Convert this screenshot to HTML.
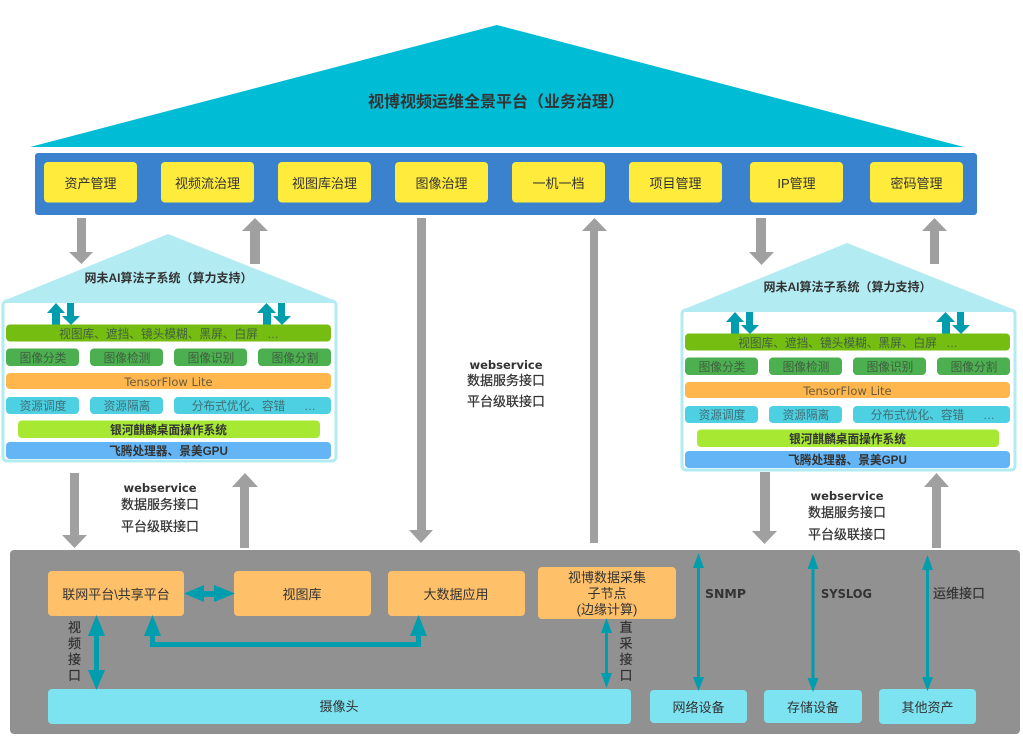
<!DOCTYPE html>
<html lang="zh-CN">
<head>
<meta charset="utf-8">
<style>
html,body{margin:0;padding:0;background:#fff;width:1023px;height:738px;overflow:hidden}
svg{display:block}
text{font-family:"Liberation Sans","Noto Sans CJK SC",sans-serif;font-size:13px;fill:#333;text-anchor:middle}
.d{font-size:11.7px;fill:#3f5f3f}
.c{font-size:11.7px;fill:#3f6f78}
.b{font-weight:bold}
.s{stroke:#333;stroke-width:.25px}
.w{font-family:"DejaVu Sans",sans-serif;font-weight:bold;font-size:11.5px}
.g{fill:#a0a0a0}
.t{fill:#009dae}
</style>
</head>
<body>
<svg width="1023" height="738" viewBox="0 0 1023 738" xmlns="http://www.w3.org/2000/svg">
<defs>
<g id="sub">
  <rect x="3" y="301" width="333" height="160" rx="4" fill="#fff" stroke="#b2ebf2" stroke-width="3"/>
  <polygon points="3,301 168,234 336,301 336,303 3,303" fill="#b2ebf2"/>
  <polygon class="t" points="56,303 65,313 60,313 60,325 52,325 52,313 47,313"/>
  <polygon class="t" points="67,303 74,303 74,316 80,316 71,325 62,316 67,316"/>
  <polygon class="t" points="266.500,303 276,313 271,313 271,325 263,325 263,313 257,313"/>
  <polygon class="t" points="278,303 285,303 285,316 291,316 282,325 273,316 278,316"/>
  <rect x="6" y="324.500" width="325" height="17" rx="4" fill="#76bd12"/>
  <rect x="6" y="348.500" width="73" height="17.500" rx="4" fill="#4caf50"/>
  <rect x="90" y="348.500" width="73" height="17.500" rx="4" fill="#4caf50"/>
  <rect x="174" y="348.500" width="73" height="17.500" rx="4" fill="#4caf50"/>
  <rect x="258" y="348.500" width="73" height="17.500" rx="4" fill="#4caf50"/>
  <rect x="6" y="373" width="325" height="16" rx="4" fill="#ffb74d"/>
  <rect x="6" y="397" width="73" height="17" rx="4" fill="#4dd0e1"/>
  <rect x="90" y="397" width="73" height="17" rx="4" fill="#4dd0e1"/>
  <rect x="174" y="397" width="157" height="17" rx="4" fill="#4dd0e1"/>
  <rect x="18" y="420.500" width="302" height="17.500" rx="4" fill="#a6e832"/>
  <rect x="6" y="442" width="325" height="17" rx="4" fill="#64b5f6"/>
  <text x="168.500" y="282" class="b" style="font-size:12px">网未AI算法子系统（算力支持）</text>
  <text x="158.500" y="338" class="d">视图库、遮挡、镜头模糊、黑屏、白屏</text>
  <text x="273" y="338" class="d">…</text>
  <text x="43" y="362" class="d">图像分类</text>
  <text x="127" y="362" class="d">图像检测</text>
  <text x="211" y="362" class="d">图像识别</text>
  <text x="295" y="362" class="d">图像分割</text>
  <text x="168.500" y="386" style="font-family:'DejaVu Sans',sans-serif;font-size:11.500px;fill:#6b5a3c">TensorFlow Lite</text>
  <text x="43" y="410" class="c">资源调度</text>
  <text x="127" y="410" class="c">资源隔离</text>
  <text x="238.500" y="410" class="c">分布式优化、容错</text>
  <text x="310" y="410" class="c">…</text>
  <text x="168.500" y="434" class="b" style="font-size:11.700px">银河麒麟桌面操作系统</text>
  <text x="168.500" y="455" class="b" style="font-size:11.700px">飞腾处理器、景美GPU</text>
</g>
</defs>

<polygon points="30,147 497,25 964,147" fill="#00bcd4"/>
<text x="496" y="107" class="b" style="font-size:16px">视博视频运维全景平台（业务治理）</text>

<rect x="35" y="153" width="942" height="62" rx="3" fill="#3b82ce"/>
<g fill="#ffeb3b">
<rect x="44" y="162" width="93" height="40.500" rx="4"/>
<rect x="161" y="162" width="93" height="40.500" rx="4"/>
<rect x="278" y="162" width="93" height="40.500" rx="4"/>
<rect x="395" y="162" width="93" height="40.500" rx="4"/>
<rect x="512" y="162" width="93" height="40.500" rx="4"/>
<rect x="629" y="162" width="93" height="40.500" rx="4"/>
<rect x="750" y="162" width="93" height="40.500" rx="4"/>
<rect x="870" y="162" width="93" height="40.500" rx="4"/>
</g>
<text x="90.500" y="188">资产管理</text>
<text x="207.500" y="188">视频流治理</text>
<text x="324.500" y="188">视图库治理</text>
<text x="441.500" y="188">图像治理</text>
<text x="558.500" y="188">一机一档</text>
<text x="675.500" y="188">项目管理</text>
<text x="796.500" y="188">IP管理</text>
<text x="916.500" y="188">密码管理</text>

<use href="#sub"/>
<use href="#sub" transform="translate(679 9)"/>

<polygon class="g" points="77,218 86,218 86,252 93,252 81.500,264 69,252 77,252"/>
<polygon class="g" points="255,218 268,231 260,231 260,264 250,264 250,231 242,231"/>
<polygon class="g" points="417,218 426,218 426,530 433,530 421,543 409,530 417,530"/>
<polygon class="g" points="594.500,218 607,231 598,231 598,543 590,543 590,231 582,231"/>
<polygon class="g" points="756,218 766,218 766,252 774,252 761.500,265 749,252 756,252"/>
<polygon class="g" points="934.500,218 947,231 939,231 939,264 930,264 930,231 922,231"/>
<polygon class="g" points="70,473 79,473 79,535 87,535 74.500,548 62,535 70,535"/>
<polygon class="g" points="245,473 258,487 249,487 249,548 240,548 240,487 232,487"/>
<polygon class="g" points="760,472 770,472 770,531 777,531 764.500,544 752,531 760,531"/>
<polygon class="g" points="936.500,473 949,487 941,487 941,548 932,548 932,487 924,487"/>

<text x="506" y="369" class="w">webservice</text>
<text x="506" y="385" class="s">数据服务接口</text>
<text x="506" y="406" class="s">平台级联接口</text>
<text x="160" y="492" class="w">webservice</text>
<text x="160" y="509" class="s">数据服务接口</text>
<text x="160" y="531" class="s">平台级联接口</text>
<text x="847" y="500" class="w">webservice</text>
<text x="847" y="517" class="s">数据服务接口</text>
<text x="847" y="539" class="s">平台级联接口</text>

<rect x="10" y="550" width="1010" height="184" rx="4" fill="#919191"/>
<g fill="#ffc06a">
<rect x="48" y="571" width="136" height="45" rx="4"/>
<rect x="234" y="571" width="137" height="45" rx="4"/>
<rect x="388" y="571" width="137" height="45" rx="4"/>
<rect x="538" y="567" width="138" height="52" rx="4"/>
</g>
<g fill="#7de3f1">
<rect x="48" y="689" width="583" height="35" rx="4"/>
<rect x="650" y="690" width="97" height="33" rx="4"/>
<rect x="764" y="690" width="98" height="33" rx="4"/>
<rect x="879" y="689" width="97" height="35" rx="4"/>
</g>
<text x="116" y="599">联网平台\共享平台</text>
<text x="302" y="599">视图库</text>
<text x="456" y="599">大数据应用</text>
<text x="607" y="582">视博数据采集</text>
<text x="607" y="598">子节点</text>
<text x="607" y="614">(边缘计算)</text>
<text x="339" y="711">摄像头</text>
<text x="698.500" y="712">网络设备</text>
<text x="813" y="712">存储设备</text>
<text x="927.500" y="712">其他资产</text>

<polygon class="t" points="184,593.500 204,585 204,591 214,591 214,585 235,593.500 214,602 214,597 204,597 204,602"/>
<polygon class="t" points="96.500,615 105,636 99,636 99,670 105,670 96.500,690 88,670 94,670 94,636 88,636"/>
<polygon class="t" points="152.500,615 161,636 155,636 155,642 416,642 416,636 410,636 418.500,615 427,636 421,636 421,647 150,647 150,636 144,636"/>
<polygon class="t" points="606.500,618 612,633 608,633 608,673 612,673 606.500,688 601,673 605,673 605,633 601,633"/>
<polygon class="t" points="698.500,553 704,568 700,568 700,677 704,677 698.500,691 693,677 697,677 697,568 693,568"/>
<polygon class="t" points="813,554 818.500,569 814.500,569 814.500,678 818.500,678 813,692 807.500,678 811.500,678 811.500,569 807.500,569"/>
<polygon class="t" points="927.500,555 933,570 929,570 929,677 933,677 927.500,691 922,677 926,677 926,570 922,570"/>

<text x="74.500" y="632" class="s">视</text>
<text x="74.500" y="648" class="s">频</text>
<text x="74.500" y="664" class="s">接</text>
<text x="74.500" y="680" class="s">口</text>
<text x="626" y="632" class="s">直</text>
<text x="626" y="648" class="s">采</text>
<text x="626" y="664" class="s">接</text>
<text x="626" y="680" class="s">口</text>
<text x="725.500" y="598" class="w" style="font-size:12px" textLength="41" lengthAdjust="spacingAndGlyphs">SNMP</text>
<text x="846.500" y="598" class="w" style="font-size:12px" textLength="51" lengthAdjust="spacingAndGlyphs">SYSLOG</text>
<text x="959" y="598" class="s">运维接口</text>
</svg>
</body>
</html>
